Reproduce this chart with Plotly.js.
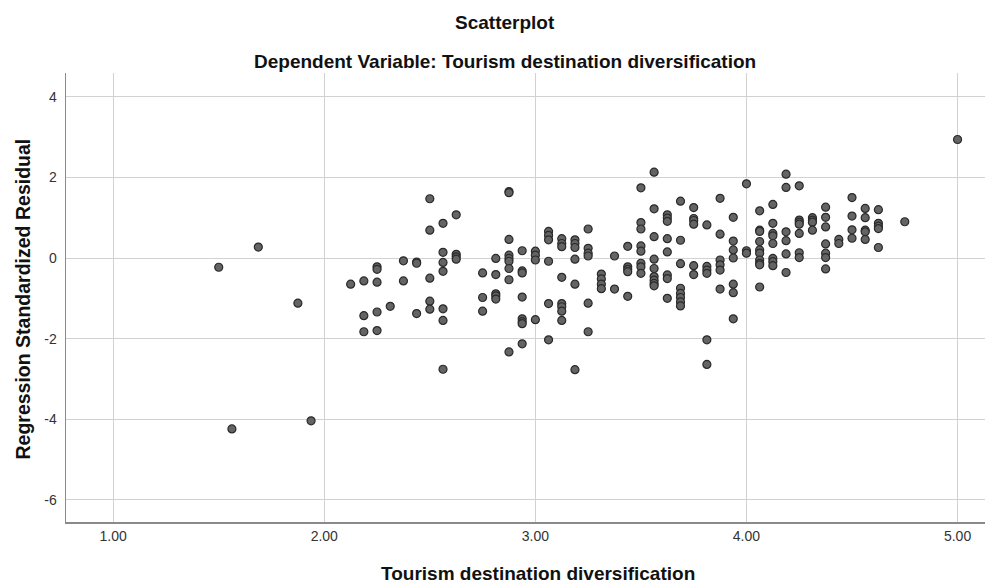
<!DOCTYPE html>
<html>
<head>
<meta charset="utf-8">
<script src="https://cdn.plot.ly/plotly-3.0.1.min.js"></script>
<style>html,body{margin:0;padding:0;background:#fff;}#chart{width:991px;height:583px;}</style>
</head>
<body>
<div id="chart"></div>
<script>
// Tourism destination diversification (x) and regression standardized residual (y)
const xValues = [
  1.5, 1.5625, 1.6875, 1.875, 1.9375,
  2.125,
  2.1875, 2.1875, 2.1875,
  2.25, 2.25, 2.25, 2.25, 2.25,
  2.3125,
  2.375, 2.375,
  2.4375, 2.4375, 2.4375,
  2.5, 2.5, 2.5, 2.5, 2.5,
  2.5625, 2.5625, 2.5625, 2.5625, 2.5625, 2.5625, 2.5625,
  2.625, 2.625, 2.625, 2.625,
  2.75, 2.75, 2.75,
  2.8125, 2.8125, 2.8125, 2.8125, 2.8125,
  2.875, 2.875, 2.875, 2.875, 2.875, 2.875, 2.875, 2.875, 2.875,
  2.9375, 2.9375, 2.9375, 2.9375, 2.9375, 2.9375, 2.9375, 2.9375,
  3.0, 3.0, 3.0, 3.0,
  3.0625, 3.0625, 3.0625, 3.0625, 3.0625, 3.0625,
  3.125, 3.125, 3.125, 3.125, 3.125, 3.125, 3.125, 3.125,
  3.1875, 3.1875, 3.1875, 3.1875, 3.1875, 3.1875,
  3.25, 3.25, 3.25, 3.25, 3.25, 3.25,
  3.3125, 3.3125, 3.3125, 3.3125,
  3.375, 3.375,
  3.4375, 3.4375, 3.4375, 3.4375, 3.4375,
  3.5, 3.5, 3.5, 3.5, 3.5, 3.5, 3.5, 3.5,
  3.5625, 3.5625, 3.5625, 3.5625, 3.5625, 3.5625, 3.5625, 3.5625, 3.5625,
  3.625, 3.625, 3.625, 3.625, 3.625, 3.625, 3.625, 3.625,
  3.6875, 3.6875, 3.6875, 3.6875, 3.6875, 3.6875, 3.6875, 3.6875,
  3.75, 3.75, 3.75, 3.75, 3.75, 3.75,
  3.8125, 3.8125, 3.8125, 3.8125, 3.8125, 3.8125,
  3.875, 3.875, 3.875, 3.875, 3.875, 3.875,
  3.9375, 3.9375, 3.9375, 3.9375, 3.9375, 3.9375, 3.9375,
  4.0, 4.0, 4.0,
  4.0625, 4.0625, 4.0625, 4.0625, 4.0625, 4.0625, 4.0625, 4.0625, 4.0625, 4.0625,
  4.125, 4.125, 4.125, 4.125, 4.125, 4.125, 4.125, 4.125,
  4.1875, 4.1875, 4.1875, 4.1875, 4.1875, 4.1875,
  4.25, 4.25, 4.25, 4.25, 4.25, 4.25, 4.25,
  4.3125, 4.3125, 4.3125, 4.3125,
  4.375, 4.375, 4.375, 4.375, 4.375, 4.375, 4.375,
  4.4375, 4.4375,
  4.5, 4.5, 4.5, 4.5,
  4.5625, 4.5625, 4.5625, 4.5625, 4.5625,
  4.625, 4.625, 4.625, 4.625, 4.625,
  4.75, 5.0
];
const residuals = [
  -0.23, -4.24, 0.27, -1.12, -4.04,
  -0.65,
  -0.57, -1.43, -1.83,
  -0.22, -0.28, -0.60, -1.34, -1.80,
  -1.20,
  -0.07, -0.57,
  -0.10, -0.13, -1.38,
  1.47, 0.69, -0.50, -1.07, -1.27,
  0.86, 0.14, -0.11, -0.33, -1.26, -1.55, -2.76,
  1.07, 0.09, 0.03, -0.03,
  -0.37, -0.98, -1.32,
  -0.01, -0.41, -0.89, -0.94, -1.02,
  1.65, 1.62, 0.46, 0.07, -0.01, -0.08, -0.26, -0.54, -2.33,
  0.18, -0.32, -0.37, -0.97, -1.51, -1.58, -1.63, -2.13,
  0.17, 0.07, -0.05, -1.53,
  0.66, 0.56, 0.45, -0.08, -1.13, -2.03,
  0.48, 0.36, 0.28, -0.48, -1.13, -1.21, -1.32, -1.55,
  0.45, 0.36, 0.26, -0.03, -0.65, -2.77,
  0.72, 0.24, 0.12, 0.05, -1.12, -1.83,
  -0.40, -0.52, -0.65, -0.76,
  0.05, -0.77,
  0.29, -0.22, -0.28, -0.34, -0.95,
  1.74, 0.88, 0.72, 0.30, 0.17, -0.13, -0.22, -0.38,
  2.13, 1.22, 0.53, -0.03, -0.26, -0.46, -0.55, -0.63, -0.69,
  1.07, 0.99, 0.91, 0.48, 0.15, -0.42, -0.51, -1.00,
  1.41, 0.44, -0.14, -0.75, -0.88, -0.98, -1.09, -1.19,
  1.25, 0.98, 0.93, 0.84, -0.19, -0.41,
  0.82, -0.21, -0.30, -0.38, -2.03, -2.64,
  1.48, 0.59, -0.05, -0.17, -0.30, -0.77,
  1.01, 0.42, 0.20, 0.00, -0.65, -0.86, -1.51,
  1.84, 0.18, 0.12,
  1.17, 0.69, 0.66, 0.41, 0.20, 0.12, -0.05, -0.13, -0.17, -0.72,
  1.33, 0.86, 0.61, 0.55, 0.36, -0.01, -0.09, -0.19,
  2.08, 1.75, 0.65, 0.43, 0.10, -0.36,
  1.79, 0.94, 0.89, 0.84, 0.61, 0.13, 0.01,
  1.00, 0.94, 0.89, 0.69,
  1.26, 1.01, 0.77, 0.35, 0.12, 0.01, -0.27,
  0.46, 0.36,
  1.50, 1.04, 0.70, 0.49,
  1.23, 1.00, 0.69, 0.65, 0.46,
  1.20, 0.86, 0.79, 0.73, 0.26,
  0.90, 2.94
];
const xTicks = [1, 2, 3, 4, 5];
const xTickLabels = ['1.00', '2.00', '3.00', '4.00', '5.00'];
const yTicks = [-6, -4, -2, 0, 2, 4];
const yTickLabels = ['-6', '-4', '-2', '0', '2', '4'];

const chartTitle = 'Scatterplot';
const chartSubtitle = 'Dependent Variable: Tourism destination diversification';
const xTitle = 'Tourism destination diversification';
const yTitle = 'Regression Standardized Residual';

const W = 991, H = 583;
const plotL = 65.5, plotR = 985, plotT = 73, plotB = 522;
const px = v => (v - plotL) / (plotR - plotL);
const py = v => (plotB - v) / (plotB - plotT);

const trace = {
  type: 'scatter',
  mode: 'markers',
  x: xValues,
  y: residuals,
  marker: {
    size: 8,
    color: '#646464',
    line: {color: '#2a2a2a', width: 1.2}
  },
  hoverinfo: 'x+y'
};

const fontFam = 'Liberation Sans, Arial, sans-serif';
const tickFont = {family: fontFam, size: 14, color: '#333333'};
const layout = {
  width: W,
  height: H,
  margin: {l: plotL, r: W - plotR, t: plotT, b: H - plotB, pad: 0},
  paper_bgcolor: '#ffffff',
  plot_bgcolor: '#ffffff',
  showlegend: false,
  title: {text: ''},
  xaxis: {
    range: [0.7765, 5.13],
    tickvals: xTicks,
    ticktext: xTickLabels,
    showgrid: true,
    gridcolor: '#d2d2d2',
    gridwidth: 1,
    zeroline: false,
    showline: true,
    linecolor: '#8a8a8a',
    linewidth: 1.5,
    ticks: '',
    ticklabelstandoff: 1,
    tickfont: tickFont
  },
  yaxis: {
    range: [-6.55, 4.59],
    tickvals: yTicks,
    ticktext: yTickLabels,
    showgrid: true,
    gridcolor: '#d2d2d2',
    gridwidth: 1,
    zeroline: false,
    showline: true,
    linecolor: '#8a8a8a',
    linewidth: 1.5,
    ticks: '',
    ticklabelstandoff: 5,
    tickfont: tickFont
  },
  annotations: [
    {text: '<b>' + chartTitle + '</b>', xref: 'paper', yref: 'paper', x: px(505), y: py(22),
     xanchor: 'center', yanchor: 'middle', showarrow: false,
     font: {family: fontFam, size: 19, color: '#111111'}},
    {text: '<b>' + chartSubtitle + '</b>', xref: 'paper', yref: 'paper', x: px(505), y: py(61),
     xanchor: 'center', yanchor: 'middle', showarrow: false,
     font: {family: fontFam, size: 19, color: '#111111'}},
    {text: '<b>' + xTitle + '</b>', xref: 'paper', yref: 'paper', x: px(538), y: py(573),
     xanchor: 'center', yanchor: 'middle', showarrow: false,
     font: {family: fontFam, size: 19, color: '#111111'}},
    {text: '<b>' + yTitle + '</b>', xref: 'paper', yref: 'paper', x: px(22), y: py(299),
     xanchor: 'center', yanchor: 'middle', showarrow: false, textangle: -90,
     font: {family: fontFam, size: 19.5, color: '#111111'}}
  ]
};

Plotly.newPlot('chart', [trace], layout, {displayModeBar: false, staticPlot: true});
</script>
</body>
</html>
